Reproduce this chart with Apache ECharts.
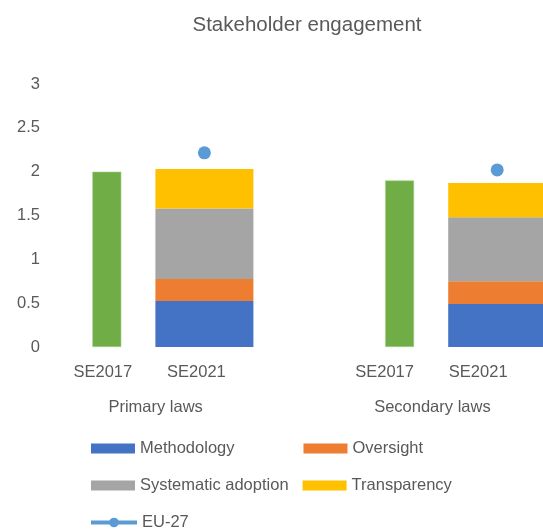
<!DOCTYPE html>
<html>
<head>
<meta charset="utf-8">
<script src="https://cdn.jsdelivr.net/npm/echarts@6/dist/echarts.min.js"></script>
<style>
    html, body { margin: 0; padding: 0; background: #fff; }
    #main { width: 543px; height: 532px; }
</style>
</head>
<body>
<div id="main"></div>
<script>
// categories (the empty one is the gap between the two groups)
const categories = ['SE2017', 'SE2021', '', 'SE2017', 'SE2021'];
const groupLabels = ['', '', 'Primary laws', '', '', '', '', '', 'Secondary laws', '', ''];
const yTicks = [0, 0.5, 1, 1.5, 2, 2.5, 3];

// values
const se2017Total = [2.0, null, null, 1.9, null];
const methodology = [null, 0.525, null, null, 0.49];
const oversight = [null, 0.25, null, null, 0.26];
const systematicAdoption = [null, 0.805, null, null, 0.73];
const transparency = [null, 0.45, null, null, 0.39];
const eu27 = [null, 2.215, null, null, 2.02];

const textColor = '#595959';
const font = 'Liberation Sans';
const fs = 16.5;
// small left shifts of the category labels, as in the picture
const labelShift = [8, 16, 0, 30, 38];

const chart = echarts.init(document.getElementById('main'));

const legendBase = {
    orient: 'horizontal',
    padding: 0,
    itemWidth: 44,
    itemHeight: 10,
    textStyle: { color: textColor, fontSize: fs, fontFamily: font }
};

const option = {
    animation: false,
    textStyle: { fontFamily: font },
    title: {
        text: 'Stakeholder engagement',
        left: 302,
        top: 10,
        textAlign: 'center',
        textStyle: { color: textColor, fontSize: 20.5, fontWeight: 'normal', fontFamily: font }
    },
    legend: [
        Object.assign({}, legendBase, {
            data: ['Methodology', 'Oversight'], icon: 'rect',
            left: 91, top: 440, itemGap: 69
        }),
        Object.assign({}, legendBase, {
            data: ['Systematic adoption', 'Transparency'], icon: 'rect',
            left: 91, top: 477, itemGap: 14
        }),
        Object.assign({}, legendBase, {
            data: ['EU-27'],
            left: 89, top: 514,
            itemWidth: 46, itemHeight: 12,
            lineStyle: { width: 4, color: '#5B9BD5' }
        })
    ],
    grid: { left: 58, width: 488, top: 84, bottom: 185, containLabel: false, outerBoundsMode: 'none' },
    xAxis: [
        {
            type: 'category',
            data: categories.map((c, i) => ({ value: c, textStyle: { padding: [0, labelShift[i], 0, 0] } })),
            axisLine: { show: false },
            axisTick: { show: false },
            axisLabel: { color: textColor, fontSize: fs, margin: 17, interval: 0, fontFamily: font }
        },
        {
            type: 'category',
            data: categories,
            show: false
        },
        {
            type: 'category',
            position: 'bottom',
            offset: 37,
            boundaryGap: false,
            data: groupLabels.map(g => ({ value: g, textStyle: { padding: [0, g === 'Secondary laws' ? 32 : 0, 0, 0] } })),
            axisLine: { show: false },
            axisTick: { show: false },
            axisLabel: { color: textColor, fontSize: fs, margin: 15, interval: 0, fontFamily: font }
        }
    ],
    yAxis: {
        type: 'value',
        min: 0,
        max: 3,
        interval: 0.5,
        axisLine: { show: false },
        axisTick: { show: false },
        splitLine: { show: false },
        axisLabel: {
            color: textColor, fontSize: fs, margin: 18, fontFamily: font,
            formatter: v => (yTicks.indexOf(v) >= 0 ? String(v) : '')
        }
    },
    series: [
        {
            name: 'SE2017',
            type: 'bar',
            xAxisIndex: 1,
            barWidth: 29,
            data: se2017Total,
            itemStyle: { color: '#70AD47', borderColor: '#A9D18E', borderWidth: 0.6 }
        },
        {
            name: 'Methodology', type: 'bar', stack: 'se2021', barWidth: 98,
            data: methodology, itemStyle: { color: '#4472C4' }
        },
        {
            name: 'Oversight', type: 'bar', stack: 'se2021', barWidth: 98,
            data: oversight, itemStyle: { color: '#ED7D31' }
        },
        {
            name: 'Systematic adoption', type: 'bar', stack: 'se2021', barWidth: 98,
            data: systematicAdoption, itemStyle: { color: '#A5A5A5' }
        },
        {
            name: 'Transparency', type: 'bar', stack: 'se2021', barWidth: 98,
            data: transparency, itemStyle: { color: '#FFC000' }
        },
        {
            name: 'EU-27',
            type: 'line',
            data: eu27,
            symbol: 'circle',
            symbolSize: 13,
            connectNulls: false,
            lineStyle: { color: '#5B9BD5', width: 4 },
            itemStyle: { color: '#5B9BD5' },
            z: 5
        }
    ]
};

chart.setOption(option);
window.addEventListener('resize', function () {
    chart.resize();
});
</script>
</body>
</html>
